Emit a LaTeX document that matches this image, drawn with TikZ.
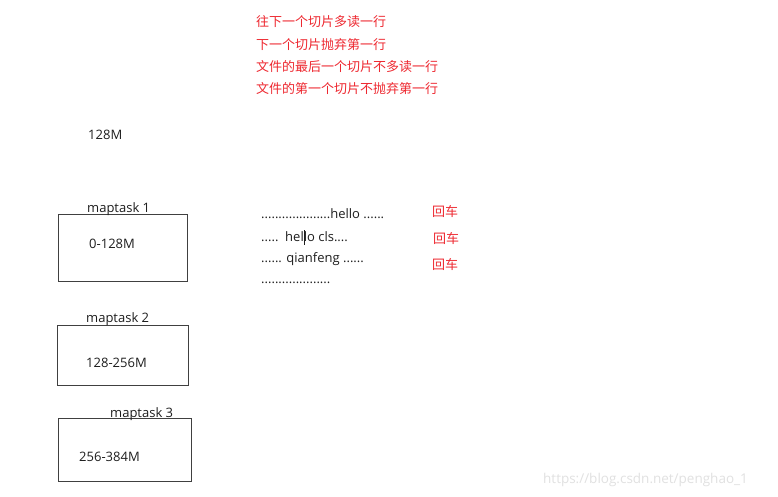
\documentclass[tikz,border=0pt]{standalone}
\usepackage{fontspec}
\setmainfont{Open Sans}
\newfontfamily\cjk{Noto Sans CJK SC}
\definecolor{redtxt}{RGB}{238,40,48}
\definecolor{darktxt}{RGB}{30,30,30}
\definecolor{wmark}{RGB}{225,225,225}
\begin{document}
\begin{tikzpicture}[x=1pt,y=-1pt,
  txt/.style={anchor=west,inner sep=0pt,font=\fontsize{13}{15}\selectfont,text=darktxt},
  redline/.style={anchor=west,inner sep=0pt,font=\cjk\fontsize{13}{15}\selectfont,text=redtxt},
  taskbox/.style={draw=darktxt!85,line width=0.9pt},
  watermark/.style={anchor=west,inner sep=0pt,font=\fontsize{13.5}{16}\selectfont,text=wmark}]
\useasboundingbox (0,0) rectangle (778,497);
\fill[white] (0,0) rectangle (778,497);
% red notes
\node[redline] (r1) at (256,22) {往下一个切片多读一行};
\node[redline] (r2) at (256,45) {下一个切片抛弃第一行};
\node[redline] (r3) at (256,67) {文件的最后一个切片不多读一行};
\node[redline] (r4) at (256,89) {文件的第一个切片不抛弃第一行};
% 128M
\node[txt] (m128) at (88,135) {128M};
% boxes
\draw[taskbox] (58,214) rectangle (187,281);
\node[txt] (t1) at (87,209) {maptask 1};
\node[txt] (s1) at (89,244) {0-128M};
\draw[taskbox] (57,325) rectangle (188,385);
\node[txt] (t2) at (86,319) {maptask 2};
\node[txt] (s2) at (86,363) {128-256M};
\draw[taskbox] (58,418) rectangle (191,481);
\node[txt] (t3) at (110,414) {maptask 3};
\node[txt] (s3) at (79,457) {256-384M};
% text lines
\node[txt] (l1) at (261,214) {....................hello ......};
\node[txt] (l2) at (261,237) {.....\ \ hel\rlap{\rule[-3pt]{0.8pt}{15pt}}lo cls....};
\node[txt] (l3) at (261,259) {...... qianfeng ......};
\node[txt] (l4) at (261,283) {....................};
% return labels
\node[redline] (h1) at (432,212) {回车};
\node[redline] (h2) at (433,239) {回车};
\node[redline] (h3) at (432,265) {回车};
% watermark
\node[watermark] (wm) at (543,480) {https://blog.csdn.net/penghao\_1};
\end{tikzpicture}
\end{document}
